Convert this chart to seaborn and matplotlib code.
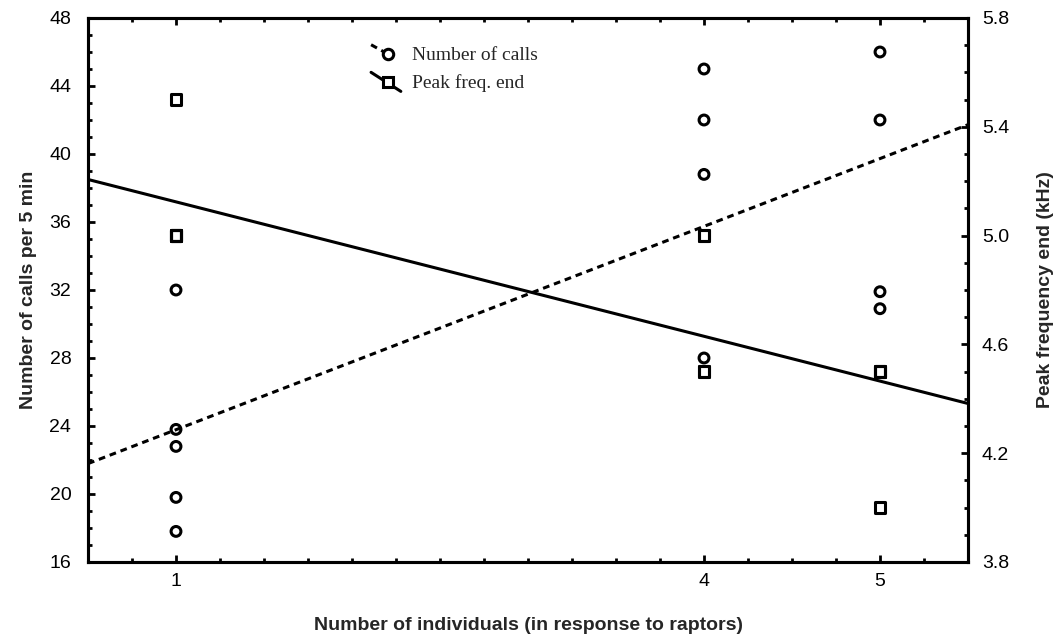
import numpy as np
import pandas as pd
import matplotlib
matplotlib.use("Agg")
import matplotlib.pyplot as plt
import seaborn as sns
from matplotlib.lines import Line2D
from matplotlib.legend_handler import HandlerBase
from matplotlib.ticker import FixedLocator, MultipleLocator

# ---- data ----
individuals = [1, 1, 1, 1, 1, 4, 4, 4, 4, 5, 5, 5, 5]
calls = [32, 23.8, 22.8, 19.8, 17.8, 45, 42, 38.8, 28, 46, 42, 31.9, 30.9]
peak_freq_end = [5.5, 5.0, 5.0, 5.0, 5.0, 5.0, 5.0, 4.5, 4.5, 4.5, 4.5, 4.5, 4.0]
x_ticks = [1, 4, 5]
left_ticks = [16, 20, 24, 28, 32, 36, 40, 44, 48]
right_ticks = [3.8, 4.2, 4.6, 5.0, 5.4, 5.8]

df = pd.DataFrame({"x": individuals, "calls": calls, "peak": peak_freq_end})

sns.set_theme(style="white")
plt.rcParams["font.family"] = ["Liberation Sans", "DejaVu Sans"]

fig = plt.figure(figsize=(10.59, 6.37), dpi=100)
ax = fig.add_axes([88 / 1059, 1 - 562 / 637, 880 / 1059, 544 / 637])
ax.set_xlim(0.5, 5.5)
ax.set_ylim(16, 48)
ax2 = ax.twinx()
ax2.set_ylim(3.8, 5.8)

DASH = (0, (2.2, 1.6))

# regression lines (fit from data)
sns.regplot(data=df, x="x", y="calls", ax=ax, scatter=False, ci=None, truncate=False,
            line_kws=dict(color="black", lw=2.2, ls=DASH))
sns.regplot(data=df, x="x", y="peak", ax=ax2, scatter=False, ci=None, truncate=False,
            line_kws=dict(color="black", lw=2.2, ls="-"))

# points
sns.scatterplot(data=df, x="x", y="calls", ax=ax, marker="o", s=50,
                facecolor="none", edgecolor="black", linewidth=2.2, legend=False, zorder=5)
sns.scatterplot(data=df, x="x", y="peak", ax=ax2, marker="s", s=55,
                facecolor="none", edgecolor="black", linewidth=2.2, legend=False, zorder=5)

ax.set_xlim(0.5, 5.5)
ax.set_ylim(16, 48)
ax2.set_ylim(3.8, 5.8)

# ticks
ax.xaxis.set_major_locator(FixedLocator(x_ticks))
ax.set_xticklabels([str(t) for t in x_ticks])
ax.xaxis.set_minor_locator(MultipleLocator(0.25))
ax.yaxis.set_major_locator(FixedLocator(left_ticks))
ax.set_yticklabels([str(t) for t in left_ticks])
ax.yaxis.set_minor_locator(MultipleLocator(1))
ax2.yaxis.set_major_locator(FixedLocator(right_ticks))
ax2.set_yticklabels([f"{t:.1f}" for t in right_ticks])
ax2.yaxis.set_minor_locator(MultipleLocator(0.1))

TICK_FS = 14
ax.tick_params(axis="x", which="both", direction="in", top=True, bottom=True,
               width=2, colors="black", labelsize=TICK_FS, pad=8)
ax.tick_params(axis="x", which="major", length=5)
ax.tick_params(axis="x", which="minor", length=3)
ax.tick_params(axis="y", which="both", direction="in", left=True, right=False,
               width=2, colors="black", labelsize=TICK_FS, pad=12)
ax.tick_params(axis="y", which="major", length=5)
ax.tick_params(axis="y", which="minor", length=3)
ax2.tick_params(axis="y", which="both", direction="in", right=True, left=False,
                width=2, colors="black", labelsize=TICK_FS, pad=10)
ax2.tick_params(axis="y", which="major", length=5)
ax2.tick_params(axis="y", which="minor", length=3)

for a in (ax, ax2):
    for s in a.spines.values():
        s.set_visible(True)
        s.set_color("black")
        s.set_linewidth(2.2)

LAB_FS = 14
ax.set_xlabel("Number of individuals (in response to raptors)", fontsize=LAB_FS,
              fontweight="bold")
ax.set_ylabel("Number of calls per 5 min", fontsize=LAB_FS, fontweight="bold")
ax2.set_ylabel("Peak frequency end (kHz)", fontsize=LAB_FS, fontweight="bold")
ax.xaxis.set_label_coords(0.5, (562 - 617) / 544)
ax.yaxis.set_label_coords((37 - 88) / 880, 0.5)
ax2.yaxis.set_label_coords((1037 - 88) / 880, 0.5)


class DiagHandler(HandlerBase):
    def __init__(self, marker, ls, stop_at_marker=False, **kw):
        super().__init__(**kw)
        self.marker = marker
        self.ls = ls
        self.stop = stop_at_marker

    def create_artists(self, legend, orig_handle, xdescent, ydescent, width, height,
                       fontsize, trans):
        x0, x1 = -xdescent, -xdescent + width
        y0, y1 = -ydescent - 0.25 * height, -ydescent + height * 1.15
        mx = x0 + 0.62 * width
        my = (y0 + y1) / 2
        xs = x0 + 0.1 * width
        if self.stop:
            xe = mx
            ye = my
        else:
            xe, ye = x1, y0
        line = Line2D([xs, xe], [y1, ye], color="black", lw=2.2,
                      ls=self.ls, transform=trans)
        mk = Line2D([mx], [my], marker=self.marker, markersize=7.5,
                    markerfacecolor="white", markeredgecolor="black",
                    markeredgewidth=2.2, ls="none", transform=trans)
        return [line, mk]


h1 = Line2D([], [])
h2 = Line2D([], [])
leg = ax.legend([h1, h2], ["Number of calls", "Peak freq. end"],
                handler_map={h1: DiagHandler("o", DASH, stop_at_marker=True),
                             h2: DiagHandler("s", "-")},
                loc="upper left", bbox_to_anchor=(360 / 1059, 1 - 39 / 637),
                bbox_transform=fig.transFigure, frameon=False,
                prop={"family": "Liberation Serif", "size": 14},
                handlelength=1.7, handletextpad=0.55, labelspacing=0.5, borderaxespad=0)
leg.set_zorder(10)
ax.set_zorder(ax2.get_zorder() + 1)
ax.patch.set_visible(False)

fig.savefig("out.png", dpi=100, facecolor="white")
